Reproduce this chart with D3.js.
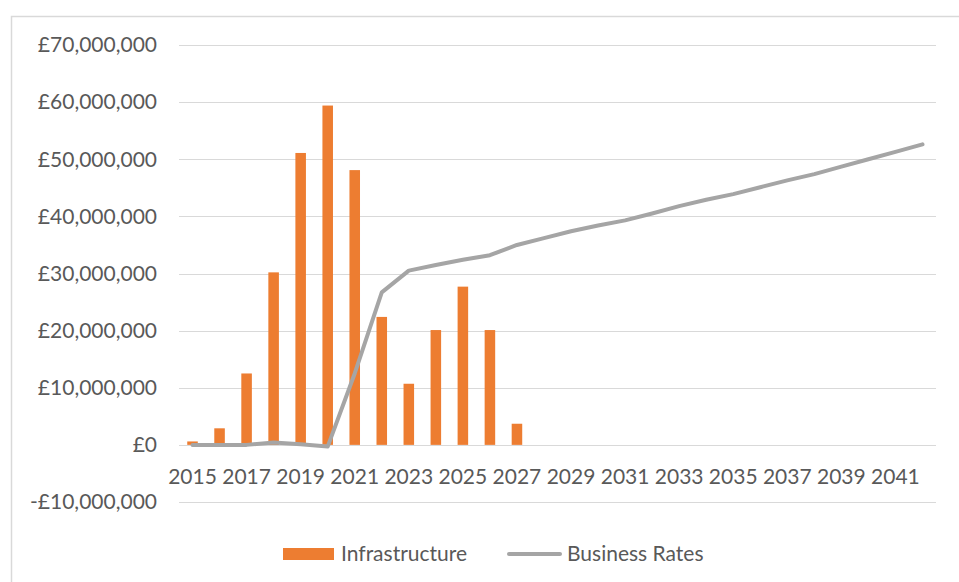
<!DOCTYPE html>
<meta charset="utf-8">
<style>
body { margin: 0; background: #fff; }
text { font-family: Lato, "Open Sans", sans-serif; fill: #595959; }
.grid line { stroke: #d9d9d9; stroke-width: 1; }
</style>
<body>
<svg width="959" height="582"></svg>
<script src="https://cdn.jsdelivr.net/npm/d3@7"></script>
<script>

var years = d3.range(2015, 2043);

var infrastructure = [0.6e6, 2.9e6, 12.5e6, 30.2e6, 51.1e6, 59.4e6, 48.1e6, 22.4e6, 10.7e6, 20.1e6,
  27.7e6, 20.1e6, 3.7e6, 0, 0, 0, 0, 0, 0, 0, 0, 0, 0, 0, 0, 0, 0, 0];

var businessRates = [0, 0, 0, 0.4e6, 0.1e6, -0.3e6, 12.5e6, 26.7e6, 30.5e6, 31.5e6,
  32.4e6, 33.2e6, 35.0e6, 36.2e6, 37.4e6, 38.4e6, 39.3e6, 40.5e6, 41.8e6, 42.9e6,
  43.9e6, 45.1e6, 46.3e6, 47.4e6, 48.7e6, 50.0e6, 51.3e6, 52.6e6];

var yTicks = [-10e6, 0, 10e6, 20e6, 30e6, 40e6, 50e6, 60e6, 70e6];
var xLabels = years.filter(function(d) { return (d - 2015) % 2 === 0 && d < 2042; });
var seriesNames = ["Infrastructure", "Business Rates"];

var fontSize = 21;

var svg = d3.select("svg");

// chart frame (only top/left edges fall inside the picture)
svg.append("rect")
    .attr("x", 11.5).attr("y", 16.5)
    .attr("width", 960).attr("height", 600)
    .attr("fill", "none")
    .attr("stroke", "#d9d9d9")
    .attr("stroke-width", 1.5);

var x = d3.scaleBand()
    .domain(years)
    .range([179, 936])
    .paddingInner(0.61)
    .paddingOuter(0.305);

var y = d3.scaleLinear()
    .domain([-10e6, 70e6])
    .range([502, 45]);

var fmt = function(d) {
  var s = "£" + d3.format(",")(Math.abs(d));
  return d < 0 ? "-" + s : s;
};

// gridlines
svg.append("g")
    .attr("class", "grid")
  .selectAll("line")
  .data(yTicks)
  .enter().append("line")
    .attr("x1", 179).attr("x2", 936)
    .attr("y1", function(d) { return Math.round(y(d)) + 0.5; })
    .attr("y2", function(d) { return Math.round(y(d)) + 0.5; });

// y labels
svg.append("g")
  .selectAll("text")
  .data(yTicks)
  .enter().append("text")
    .attr("x", 157)
    .attr("y", function(d) { return y(d); })
    .attr("dy", "0.35em")
    .attr("text-anchor", "end")
    .attr("font-size", fontSize)
    .text(fmt);

// x labels
svg.append("g")
  .selectAll("text")
  .data(xLabels)
  .enter().append("text")
    .attr("x", function(d) { return x(d) + x.bandwidth() / 2; })
    .attr("y", 477)
    .attr("dy", "0.35em")
    .attr("text-anchor", "middle")
    .attr("font-size", fontSize)
    .text(function(d) { return d; });

// bars
svg.append("g")
  .selectAll("rect")
  .data(years.map(function(d, i) { return {year: d, v: infrastructure[i]}; }))
  .enter().append("rect")
    .attr("x", function(d) { return x(d.year); })
    .attr("width", x.bandwidth())
    .attr("y", function(d) { return Math.min(y(d.v), y(0)); })
    .attr("height", function(d) { return Math.abs(y(0) - y(d.v)); })
    .attr("fill", "#ed7d31");

// line
var line = d3.line()
    .x(function(d, i) { return x(years[i]) + x.bandwidth() / 2; })
    .y(function(d) { return y(d); });

svg.append("path")
    .datum(businessRates)
    .attr("d", line)
    .attr("fill", "none")
    .attr("stroke", "#a5a5a5")
    .attr("stroke-width", 4)
    .attr("stroke-linejoin", "round")
    .attr("stroke-linecap", "round");

// legend
var legend = svg.append("g");

legend.append("rect")
    .attr("x", 283).attr("y", 548)
    .attr("width", 51).attr("height", 12)
    .attr("fill", "#ed7d31");

legend.append("text")
    .attr("x", 341).attr("y", 554)
    .attr("dy", "0.35em")
    .attr("font-size", fontSize)
    .text(seriesNames[0]);

legend.append("line")
    .attr("x1", 509).attr("x2", 560)
    .attr("y1", 554).attr("y2", 554)
    .attr("stroke", "#a5a5a5")
    .attr("stroke-width", 4)
    .attr("stroke-linecap", "round");

legend.append("text")
    .attr("x", 567).attr("y", 554)
    .attr("dy", "0.35em")
    .attr("font-size", fontSize)
    .text(seriesNames[1]);

</script>
</body>
